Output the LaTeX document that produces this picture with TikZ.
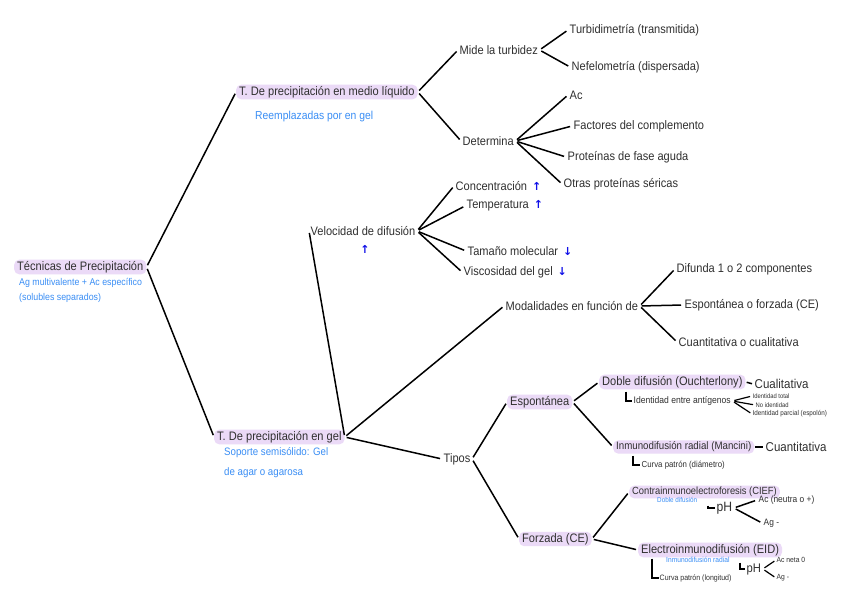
\documentclass[tikz,border=0pt]{standalone}
\usepackage{fontspec}
\setmainfont{Liberation Sans}[FakeStretch=0.9]
\newfontfamily\symf{DejaVu Sans}
\definecolor{hlc}{HTML}{EBDAF7}
\definecolor{bluec}{HTML}{3A8EF5}
\definecolor{arrc}{HTML}{1010E8}
\definecolor{txtc}{HTML}{303030}
\newcommand{\upar}{\hspace{5pt}{\symf\bfseries\color{arrc}\fontsize{11}{11}\selectfont ↑}}
\newcommand{\dnar}{\hspace{5pt}{\symf\bfseries\color{arrc}\fontsize{11}{11}\selectfont ↓}}
\begin{document}
\begin{tikzpicture}[x=1pt,y=-1pt,
  lbl/.style={anchor=west,inner sep=1.5pt,text=txtc,font=\fontsize{12.3}{14}\selectfont},
  hl/.style={lbl,fill=hlc,rounded corners=5pt,inner xsep=3pt},
  sub/.style={anchor=west,inner sep=1pt,text=bluec,font=\fontsize{11.5}{13}\selectfont},
  tinyb/.style={sub,font=\fontsize{7}{8}\selectfont},
  tiny/.style={lbl,inner sep=0.5pt,font=\fontsize{7}{8}\selectfont},
  phs/.style={lbl,font=\fontsize{13.5}{15}\selectfont},
  con/.style={line width=1.5pt,shorten <=2pt,shorten >=2pt},
  dashc/.style={line width=1.5pt,shorten <=1pt,shorten >=1pt},
  ell/.style={line width=1.5pt}]
\useasboundingbox[fill=white] (0,0) rectangle (848,599);

\node[hl] (root) at (14,267) {Técnicas de Precipitación};
\node[sub,font=\fontsize{9.8}{11}\selectfont] (rootA) at (18,283) {Ag multivalente + Ac específico};
\node[sub,font=\fontsize{9.8}{11}\selectfont] (rootB) at (18,298) {(solubles separados)};

\node[hl] (liq) at (236,92) {T. De precipitación en medio líquido};
\node[sub] (liqA) at (254,117) {Reemplazadas por en gel};
\node[lbl] (mide) at (458,50) {Mide la turbidez};
\node[lbl] (turb) at (568,30) {Turbidimetría (transmitida)};
\node[lbl] (nef) at (570,67) {Nefelometría (dispersada)};
\node[lbl] (det) at (461,141) {Determina};
\node[lbl] (ac) at (568,95) {Ac};
\node[lbl] (fac) at (572,126) {Factores del complemento};
\node[lbl] (pfa) at (566,157) {Proteínas de fase aguda};
\node[lbl] (ops) at (562,184) {Otras proteínas séricas};

\node[hl] (gel) at (214,437) {T. De precipitación en gel};
\node[sub,font=\fontsize{10.8}{12}\selectfont] (gelA) at (223,453) {Soporte semisólido: Gel};
\node[sub,font=\fontsize{10.8}{12}\selectfont] (gelB) at (223,473) {de agar o agarosa};

\node[lbl] (vel) at (309,231) {Velocidad de difusión};
\node[inner sep=0pt] (velar) at (365,249) {\symf\bfseries\color{arrc}\fontsize{11}{11}\selectfont ↑};
\node[lbl] (conc) at (454,186) {Concentración\upar};
\node[lbl] (temp) at (465,206) {Temperatura\upar};
\node[lbl] (tam) at (466,251) {Tamaño molecular\dnar};
\node[lbl] (visc) at (462,272) {Viscosidad del gel\dnar};

\node[lbl] (mod) at (504,306) {Modalidades en función de};
\node[lbl] (dif) at (675,269) {Difunda 1 o 2 componentes};
\node[lbl] (eof) at (683,305) {Espontánea o forzada (CE)};
\node[lbl] (coc) at (677,342) {Cuantitativa o cualitativa};

\node[lbl] (tipos) at (442,459) {Tipos};
\node[hl] (esp) at (507,402) {Espontánea};
\node[hl] (doble) at (599,382) {Doble difusión (Ouchterlony)};
\node[lbl,font=\fontsize{12.8}{14}\selectfont] (cual) at (753,384) {Cualitativa};
\node[lbl,font=\fontsize{9.5}{11}\selectfont] (ident) at (632,401) {Identidad entre antígenos};
\node[tiny,font=\fontsize{6.5}{7}\selectfont] (it) at (752,396) {Identidad total};
\node[tiny,font=\fontsize{6.5}{7}\selectfont] (ni) at (755,405) {No identidad};
\node[tiny] (ip) at (752,414) {Identidad parcial (espolón)};
\node[hl,font=\fontsize{10.8}{13}\selectfont] (mancini) at (613,447) {Inmunodifusión radial (Mancini)};
\node[lbl,font=\fontsize{12.8}{14}\selectfont] (cuant) at (764,447) {Cuantitativa};
\node[lbl,font=\fontsize{8.7}{10}\selectfont] (curva1) at (640,465) {Curva patrón (diámetro)};

\node[hl] (forz) at (519,539) {Forzada (CE)};
\node[hl,font=\fontsize{10.4}{12}\selectfont] (cief) at (629,492) {Contrainmunoelectroforesis (CIEF)};
\node[tinyb] (cdd) at (656,500) {Doble difusión};
\node[phs] (ph1) at (715,508) {pH};
\node[lbl,font=\fontsize{9.3}{10}\selectfont] (acn) at (757,500) {Ac (neutra o +)};
\node[lbl,font=\fontsize{9.3}{10}\selectfont] (ag1) at (762,523) {Ag -};
\node[hl] (eid) at (638,550) {Electroinmunodifusión (EID)};
\node[tinyb,font=\fontsize{7.4}{8}\selectfont] (eidr) at (665,560) {Inmunodifusión radial};
\node[tiny,font=\fontsize{7.8}{9}\selectfont] (curva2) at (659,578) {Curva patrón (longitud)};
\node[phs,font=\fontsize{12.5}{13}\selectfont] (ph2) at (745,569) {pH};
\node[tiny,font=\fontsize{7.5}{8}\selectfont] (ac0) at (776,560) {Ac neta 0};
\node[tiny,font=\fontsize{7.5}{8}\selectfont] (ag2) at (776,578) {Ag -};

% connectors
\draw[con] (root.east) -- (liq.west);
\draw[con] (root.east) -- (gel.west);
\draw[con] (liq.east) -- (mide.west);
\draw[con] (liq.east) -- (det.west);
\draw[con] (mide.east) -- (turb.west);
\draw[con] (mide.east) -- (nef.west);
\draw[con] (det.east) -- (ac.west);
\draw[con] (det.east) -- (fac.west);
\draw[con] (det.east) -- (pfa.west);
\draw[con] (det.east) -- (ops.west);
\draw[con] (gel.east) -- (vel.west);
\draw[con] (gel.east) -- (mod.west);
\draw[con] (gel.east) -- (tipos.west);
\draw[con] (vel.east) -- (conc.west);
\draw[con] (vel.east) -- (temp.west);
\draw[con] (vel.east) -- (tam.west);
\draw[con] (vel.east) -- (visc.west);
\draw[con] (mod.east) -- (dif.west);
\draw[con] (mod.east) -- (eof.west);
\draw[con] (mod.east) -- (coc.west);
\draw[con] (tipos.east) -- (esp.west);
\draw[con] (tipos.east) -- (forz.west);
\draw[con] (esp.east) -- (doble.west);
\draw[con] (esp.east) -- (mancini.west);
\draw[dashc] (doble.east) -- (cual.west);
\draw[dashc] (mancini.east) -- (cuant.west);
\draw[con,line width=1.2pt] (ident.east) -- (it.west);
\draw[con,line width=1.2pt] (ident.east) -- (ni.west);
\draw[con,line width=1.2pt] (ident.east) -- (ip.west);
\draw[con] (forz.east) -- (cief.west);
\draw[con] (forz.east) -- (eid.west);
\draw[con] (ph1.east) -- (acn.west);
\draw[con] (ph1.east) -- (ag1.west);
\draw[con,line width=1.2pt] (ph2.east) -- (ac0.west);
\draw[con,line width=1.2pt] (ph2.east) -- (ag2.west);
% L-shaped markers
\draw[ell] ([xshift=27pt,yshift=-2pt]doble.south west) |- (ident.west);
\draw[ell] ([xshift=20pt,yshift=-2pt]mancini.south west) |- (curva1.west);
\draw[ell] ([xshift=79pt,yshift=-7pt]cief.south west) |- (ph1.west);
\draw[ell] ([xshift=14pt,yshift=-1pt]eid.south west) |- (curva2.west);
\draw[ell] ([xshift=102pt,yshift=-5pt]eid.south west) |- (ph2.west);
\end{tikzpicture}
\end{document}
